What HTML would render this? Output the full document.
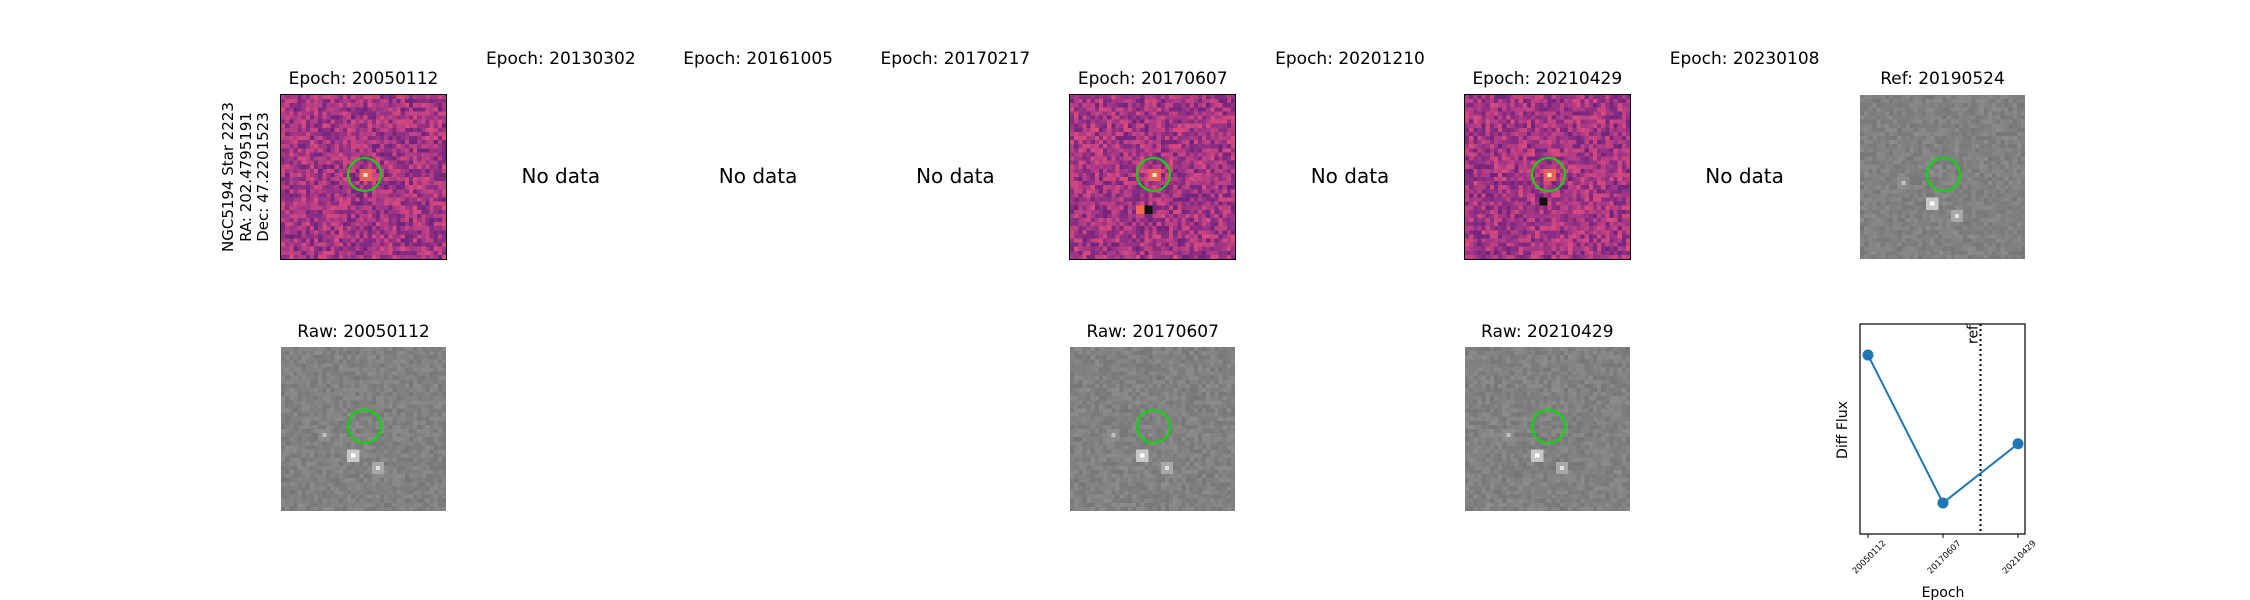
<!DOCTYPE html>
<html><head><meta charset="utf-8">
<style>
body{margin:0;width:2250px;height:600px;background:#fff;position:relative;overflow:hidden;font-family:"DejaVu Sans","Liberation Sans",sans-serif;color:#000}
.t{position:absolute;font-size:17px;white-space:nowrap;transform:translateX(-50%);line-height:1}
.nd{position:absolute;font-size:20px;white-space:nowrap;transform:translate(-50%,-50%);line-height:1}
.img{position:absolute;width:165px;height:164px}
.img canvas{width:100%;height:100%;image-rendering:pixelated;display:block}
.bord{outline:1.5px solid #000}
.circ{position:absolute;width:31px;height:31px;border:2px solid #00e000;border-radius:50%;left:66px;top:62px}
</style></head><body>
<div id="root"></div>
<svg id="chart" width="2250" height="600" style="position:absolute;left:0;top:0;pointer-events:none"></svg>
<div style="position:absolute;left:246px;top:177px;transform:translate(-50%,-50%) rotate(-90deg);font-size:15px;line-height:17.5px;text-align:center;white-space:nowrap">NGC5194 Star 2223<br>RA: 202.4795191<br>Dec: 47.2201523</div>
<script>
// chart data
const categories=["20050112","20170607","20210429"];
const fluxValues=[10.0,2.0,5.2];
const refPosition=1.5;

const root=document.getElementById('root');
const epochs=["20050112","20130302","20161005","20170217","20170607","20201210","20210429","20230108"];
const hasData=[true,false,false,false,true,false,true,false];
let seed=12345;
function rnd(){seed=(seed*1103515245+12345)%2147483648;return seed/2147483648;}
function colLeft(k){return 281+k*197.3;}
function makeImg(left,top,kind,name,bord){
  const d=document.createElement('div');
  d.className='img'+(bord?' bord':'');
  d.style.left=left+'px';d.style.top=top+'px';
  
  
  const c=document.createElement('canvas');c.width=40;c.height=40;
  const x=c.getContext('2d');
  for(let i=0;i<40;i++)for(let j=0;j<40;j++){
    let r=rnd(),col;
    if(kind==='diff'){
      const v=r;
      col=`rgb(${Math.round(110+v*110)},${Math.round(35+v*40)},${Math.round(125+(0.5-Math.abs(v-0.5))*20)})`;
    }else{
      const g=Math.round(118+r*22);col=`rgb(${g},${g},${g})`;
    }
    x.fillStyle=col;x.fillRect(i,j,1,1);
  }
  function spot(px,py,c1,c2){x.fillStyle=c2;x.fillRect(px-1,py-1,3,3);x.fillStyle=c1;x.fillRect(px,py,1,1);}
  if(kind==='diff'){spot(20,19,'#fff4c0','#e8605a');}
  else{spot(17,26,'#ffffff','#c8c8c8');spot(23,29,'#e0e0e0','#a8a8a8');spot(10,21,'#c0c0c0','#8c8c8c');}
  if(name.indexOf('20170607')>=0&&kind==='diff'){x.fillStyle='#111';x.fillRect(18,27,2,2);x.fillStyle='#f06a50';x.fillRect(16,27,2,2);}
  if(name.indexOf('20210429')>=0&&kind==='diff'){x.fillStyle='#111';x.fillRect(18,25,2,2);}
  d.appendChild(c);
  const ci=document.createElement('div');ci.className='circ';
  
  
  d.appendChild(ci);
  root.appendChild(d);
}
function title(txt,cx,top,name){
  const t=document.createElement('div');t.className='t';t.textContent=txt;
  t.style.left=cx+'px';t.style.top=top+'px';
  
  
  root.appendChild(t);
}
epochs.forEach((e,k)=>{
  const L=colLeft(k),cx=L+82.5;
  if(hasData[k]){
    title('Epoch: '+e,cx,71,'epoch-title-'+e);
    makeImg(L,95,'diff','diff-image-'+e,true);
    title('Raw: '+e,cx,324,'raw-title-'+e);
    makeImg(L,347,'raw','raw-image-'+e,false);
  }else{
    title('Epoch: '+e,cx,51,'epoch-title-'+e);
    const n=document.createElement('div');n.className='nd';n.textContent='No data';
    n.style.left=cx+'px';n.style.top='176px';
    
    
    root.appendChild(n);
  }
});
title('Ref: 20190524',1942.5,71,'ref-title');
makeImg(1860,95,'raw','ref-image',false);

// line chart
const svg=document.getElementById('chart');const NS='http://www.w3.org/2000/svg';
const ax={l:1860,r:2025,t:324,b:534};
function xs(i){return 1868+i*(2018-1868)/(categories.length-1);}
const vmin=Math.min(...fluxValues),vmax=Math.max(...fluxValues),pad=(vmax-vmin)*0.21;
function ys(v){return ax.b-(v-(vmin-pad))/((vmax+pad)-(vmin-pad))*(ax.b-ax.t);}
function el(tag,attrs,name,txt){const e=document.createElementNS(NS,tag);for(const k in attrs)e.setAttribute(k,attrs[k]);
  
  
  if(txt)e.textContent=txt;svg.appendChild(e);return e;}
el('rect',{x:ax.l,y:ax.t,width:ax.r-ax.l,height:ax.b-ax.t,fill:'none',stroke:'#000','stroke-width':1.2},'plot-frame');
const rx=xs(refPosition);
el('line',{x1:rx,x2:rx,y1:ax.t,y2:ax.b,stroke:'#000','stroke-width':2,'stroke-dasharray':'2,3'},'ref-line');
el('text',{x:0,y:0,transform:`translate(${rx-3},${ax.t+1}) rotate(-90)`,'text-anchor':'end','font-size':14,'font-family':'DejaVu Sans, sans-serif'},'ref-label','ref');
el('polyline',{points:fluxValues.map((v,i)=>xs(i)+','+ys(v)).join(' '),fill:'none',stroke:'#1f77b4','stroke-width':2},'flux-line');
fluxValues.forEach((v,i)=>{
  el('circle',{cx:xs(i),cy:ys(v),r:5.5,fill:'#1f77b4'},'flux-point-'+categories[i]);
  el('line',{x1:xs(i),x2:xs(i),y1:ax.b,y2:ax.b+4,stroke:'#000'},'x-tick-'+categories[i]);
  el('text',{x:0,y:0,transform:`translate(${xs(i)+3},${ax.b+25}) rotate(-45)`,'text-anchor':'middle','font-size':8.5,'font-family':'DejaVu Sans, sans-serif'},'x-tick-label-'+categories[i],categories[i]);
});
el('text',{x:0,y:0,transform:'translate(1847,430) rotate(-90)','text-anchor':'middle','font-size':14,'font-family':'DejaVu Sans, sans-serif'},'y-axis-title','Diff Flux');
el('text',{x:1943,y:597,'text-anchor':'middle','font-size':14,'font-family':'DejaVu Sans, sans-serif'},'x-axis-title','Epoch');
</script>
</body></html>
